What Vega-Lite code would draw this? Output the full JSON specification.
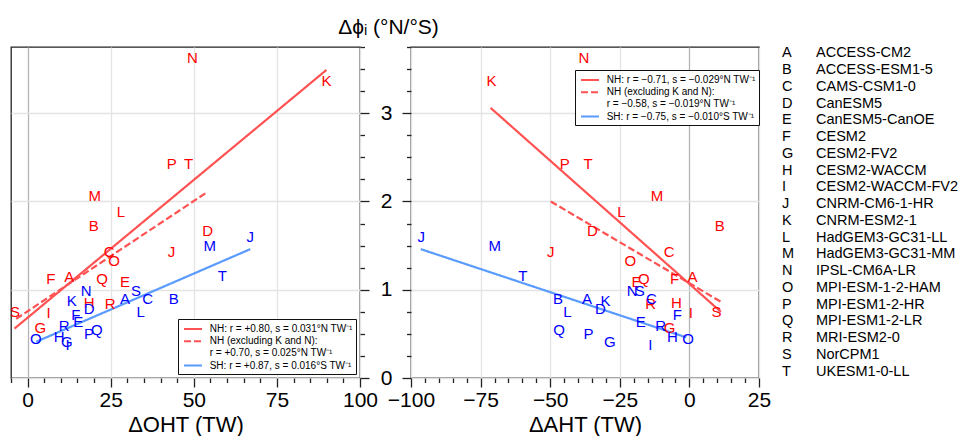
{
  "$schema": "https://vega.github.io/schema/vega-lite/v6.json",
  "background": "white",
  "padding": {"left": 9, "top": 15, "right": 5, "bottom": 5},
  "bounds": "flush",
  "spacing": 51,
  "config": {
    "font": "Liberation Sans",
    "view": {"stroke": "#222222", "strokeWidth": 1.3},
    "axis": {
      "labelFont": "Liberation Sans", "titleFont": "Liberation Sans",
      "labelColor": "black", "titleColor": "black",
      "labelFontSize": 21, "titleFontSize": 22, "titleFontWeight": "normal",
      "domain": false,
      "tickColor": "#222222", "tickWidth": 1.3, "gridWidth": 1.3, "gridColor": "#e4e4e4",
      "labelOverlap": false, "labelFlush": false
    },
    "legend": {
      "labelFont": "Liberation Sans", "labelFontSize": 10, "labelColor": "black",
      "symbolType": "M-1.5,0H1.5", "symbolSize": 144, "symbolStrokeWidth": 2,
      "symbolOffset": 5, "labelOffset": 9.7, "padding": 3, "rowPadding": 0.2,
      "strokeColor": "#111111", "fillColor": "white", "labelLimit": 400,
      "cornerRadius": 0
    }
  },
  "resolve": {
    "scale": {"x": "independent", "y": "independent", "stroke": "independent", "strokeDash": "independent", "fill": "independent"},
    "axis": {"x": "independent", "y": "independent"},
    "legend": {"stroke": "independent", "strokeDash": "independent", "fill": "independent"}
  },
  "datasets": {
    "points": [
      {"code": "A", "hemi": "NH", "oht": 12.5, "aht": 1.1, "phi": 1.14},
      {"code": "B", "hemi": "NH", "oht": 19.9, "aht": 10.9, "phi": 1.72},
      {"code": "C", "hemi": "NH", "oht": 24.5, "aht": -7.3, "phi": 1.43},
      {"code": "D", "hemi": "NH", "oht": 54.2, "aht": -34.8, "phi": 1.67},
      {"code": "E", "hemi": "NH", "oht": 29.3, "aht": -19.0, "phi": 1.09},
      {"code": "F", "hemi": "NH", "oht": 7.0, "aht": -5.3, "phi": 1.12},
      {"code": "G", "hemi": "NH", "oht": 3.8, "aht": -7.1, "phi": 0.57},
      {"code": "H", "hemi": "NH", "oht": 18.5, "aht": -4.7, "phi": 0.845},
      {"code": "I", "hemi": "NH", "oht": 6.3, "aht": 0.5, "phi": 0.74},
      {"code": "J", "hemi": "NH", "oht": 43.3, "aht": -49.8, "phi": 1.43},
      {"code": "K", "hemi": "NH", "oht": 89.9, "aht": -71.1, "phi": 3.37},
      {"code": "L", "hemi": "NH", "oht": 28.1, "aht": -24.4, "phi": 1.88},
      {"code": "M", "hemi": "NH", "oht": 20.2, "aht": -11.6, "phi": 2.06},
      {"code": "N", "hemi": "NH", "oht": 49.6, "aht": -37.9, "phi": 3.62},
      {"code": "O", "hemi": "NH", "oht": 26.0, "aht": -21.2, "phi": 1.32},
      {"code": "P", "hemi": "NH", "oht": 43.4, "aht": -44.8, "phi": 2.43},
      {"code": "Q", "hemi": "NH", "oht": 22.4, "aht": -16.4, "phi": 1.12},
      {"code": "R", "hemi": "NH", "oht": 24.8, "aht": -13.9, "phi": 0.835},
      {"code": "S", "hemi": "NH", "oht": -3.8, "aht": 9.7, "phi": 0.75},
      {"code": "T", "hemi": "NH", "oht": 48.4, "aht": -36.4, "phi": 2.43},
      {"code": "A", "hemi": "SH", "oht": 29.3, "aht": -36.8, "phi": 0.89},
      {"code": "B", "hemi": "SH", "oht": 44.0, "aht": -47.2, "phi": 0.90},
      {"code": "C", "hemi": "SH", "oht": 36.1, "aht": -13.6, "phi": 0.89},
      {"code": "D", "hemi": "SH", "oht": 18.5, "aht": -32.0, "phi": 0.78},
      {"code": "E", "hemi": "SH", "oht": 15.2, "aht": -17.5, "phi": 0.63},
      {"code": "F", "hemi": "SH", "oht": 14.5, "aht": -4.3, "phi": 0.71},
      {"code": "G", "hemi": "SH", "oht": 11.8, "aht": -28.6, "phi": 0.405},
      {"code": "H", "hemi": "SH", "oht": 9.5, "aht": -6.1, "phi": 0.46},
      {"code": "I", "hemi": "SH", "oht": 12.0, "aht": -14.0, "phi": 0.375},
      {"code": "J", "hemi": "SH", "oht": 67.0, "aht": -96.3, "phi": 1.60},
      {"code": "K", "hemi": "SH", "oht": 13.3, "aht": -30.1, "phi": 0.87},
      {"code": "L", "hemi": "SH", "oht": 34.0, "aht": -43.8, "phi": 0.75},
      {"code": "M", "hemi": "SH", "oht": 54.8, "aht": -69.9, "phi": 1.49},
      {"code": "N", "hemi": "SH", "oht": 17.6, "aht": -20.6, "phi": 0.98},
      {"code": "O", "hemi": "SH", "oht": 2.5, "aht": -0.5, "phi": 0.445},
      {"code": "P", "hemi": "SH", "oht": 18.5, "aht": -36.2, "phi": 0.495},
      {"code": "Q", "hemi": "SH", "oht": 20.8, "aht": -46.8, "phi": 0.54},
      {"code": "R", "hemi": "SH", "oht": 11.0, "aht": -10.3, "phi": 0.585},
      {"code": "S", "hemi": "SH", "oht": 32.6, "aht": -17.8, "phi": 0.98},
      {"code": "T", "hemi": "SH", "oht": 58.6, "aht": -59.8, "phi": 1.16}
    ],
    "fits": [
      {"panel": "OHT", "fit": "NH", "x": -3.95, "y": 0.56},
      {"panel": "OHT", "fit": "NH", "x": 89.9, "y": 3.49},
      {"panel": "OHT", "fit": "NHx", "x": -3.45, "y": 0.67},
      {"panel": "OHT", "fit": "NHx", "x": 54.2, "y": 2.11},
      {"panel": "OHT", "fit": "SH", "x": 2.55, "y": 0.41},
      {"panel": "OHT", "fit": "SH", "x": 67.0, "y": 1.46},
      {"panel": "AHT", "fit": "NH", "x": -71.4, "y": 3.06},
      {"panel": "AHT", "fit": "NH", "x": 11.3, "y": 0.75},
      {"panel": "AHT", "fit": "NHx", "x": -49.8, "y": 2.0},
      {"panel": "AHT", "fit": "NHx", "x": 11.5, "y": 0.86},
      {"panel": "AHT", "fit": "SH", "x": -96.5, "y": 1.46},
      {"panel": "AHT", "fit": "SH", "x": -1.1, "y": 0.46}
    ],
    "models": [
      {"code": "A", "name": "ACCESS-CM2"},
      {"code": "B", "name": "ACCESS-ESM1-5"},
      {"code": "C", "name": "CAMS-CSM1-0"},
      {"code": "D", "name": "CanESM5"},
      {"code": "E", "name": "CanESM5-CanOE"},
      {"code": "F", "name": "CESM2"},
      {"code": "G", "name": "CESM2-FV2"},
      {"code": "H", "name": "CESM2-WACCM"},
      {"code": "I", "name": "CESM2-WACCM-FV2"},
      {"code": "J", "name": "CNRM-CM6-1-HR"},
      {"code": "K", "name": "CNRM-ESM2-1"},
      {"code": "L", "name": "HadGEM3-GC31-LL"},
      {"code": "M", "name": "HadGEM3-GC31-MM"},
      {"code": "N", "name": "IPSL-CM6A-LR"},
      {"code": "O", "name": "MPI-ESM-1-2-HAM"},
      {"code": "P", "name": "MPI-ESM1-2-HR"},
      {"code": "Q", "name": "MPI-ESM1-2-LR"},
      {"code": "R", "name": "MRI-ESM2-0"},
      {"code": "S", "name": "NorCPM1"},
      {"code": "T", "name": "UKESM1-0-LL"}
    ]
  },
  "hconcat": [
    {
      "width": 349, "height": 331,
      "resolve": {"scale": {"x": "independent", "y": "independent"}, "axis": {"x": "independent", "y": "independent"}},
      "layer": [
        {
          "data": {"name": "fits"},
          "transform": [{"filter": "datum.panel === 'OHT'"}],
          "mark": {"type": "line", "strokeWidth": 2.2, "clip": true},
          "encoding": {
            "x": {"field": "x", "type": "quantitative",
              "scale": {"domain": [-5, 100], "nice": false, "zero": false},
              "axis": {
                "orient": "bottom", "title": "ΔOHT (TW)",
                "values": [0, 25, 50, 75, 100], "format": "d",
                "tickSize": 9, "grid": true,
                "gridColor": {"condition": {"test": "datum.value === 0", "value": "#b4b4b4"}, "value": "#e4e4e4"},
                "labelPadding": 2, "titlePadding": 4
              }},
            "y": {"field": "y", "type": "quantitative",
              "scale": {"domain": [0, 3.75], "nice": false, "zero": false},
              "axis": {
                "orient": "right", "title": null, "labels": false,
                "values": [0, 1, 2, 3], "tickSize": 9, "grid": true
              }},
            "stroke": {"field": "fit", "type": "nominal",
              "scale": {"domain": ["NH", "NHx", "NHx2", "SH"], "range": ["#ff5252", "#ff5252", "rgba(0,0,0,0)", "#5b9bff"]},
              "legend": {"title": null, "orient": "bottom-right", "offset": 4,
                "labelExpr": "datum.value === 'NH' ? 'NH: r = +0.80, s = 0.031°N TW⁻¹' : datum.value === 'NHx' ? 'NH (excluding K and N):' : datum.value === 'NHx2' ? 'r = +0.70, s = 0.025°N TW⁻¹' : 'SH: r = +0.87, s = 0.016°S TW⁻¹'"}},
            "strokeDash": {"field": "fit", "type": "nominal",
              "scale": {"domain": ["NH", "NHx", "NHx2", "SH"], "range": [[1, 0], [7, 3], [1, 0], [1, 0]]},
              "legend": {"title": null, "orient": "bottom-right", "offset": 4,
                "labelExpr": "datum.value === 'NH' ? 'NH: r = +0.80, s = 0.031°N TW⁻¹' : datum.value === 'NHx' ? 'NH (excluding K and N):' : datum.value === 'NHx2' ? 'r = +0.70, s = 0.025°N TW⁻¹' : 'SH: r = +0.87, s = 0.016°S TW⁻¹'"}}
          }
        },
        {
          "data": {"name": "points"},
          "mark": {"type": "text", "fontSize": 15, "baseline": "middle", "align": "center", "font": "Liberation Sans"},
          "encoding": {
            "x": {"field": "oht", "type": "quantitative",
              "scale": {"domain": [-5, 100], "nice": false, "zero": false},
              "axis": {"orient": "bottom", "title": null, "labels": false, "grid": false, "tickSize": 4.5,
                "values": [-5,5,10,15,20,30,35,40,45,55,60,65,70,80,85,90,95]}},
            "y": {"field": "phi", "type": "quantitative",
              "scale": {"domain": [0, 3.75], "nice": false, "zero": false},
              "axis": {"orient": "right", "title": null, "labels": false, "grid": false, "tickSize": 4.5,
                "values": [0.25,0.5,0.75,1.25,1.5,1.75,2.25,2.5,2.75,3.25,3.5,3.75]}},
            "text": {"field": "code"},
            "fill": {"field": "hemi", "type": "nominal", "scale": {"domain": ["NH", "SH"], "range": ["#ff0000", "#0000ff"]}, "legend": null}
          }
        }
      ]
    },
    {
      "width": 348, "height": 331,
      "resolve": {"scale": {"x": "independent", "y": "independent"}, "axis": {"x": "independent", "y": "independent"}},
      "layer": [
        {
          "data": {"name": "fits"},
          "transform": [{"filter": "datum.panel === 'AHT'"}],
          "mark": {"type": "line", "strokeWidth": 2.2, "clip": true},
          "encoding": {
            "x": {"field": "x", "type": "quantitative",
              "scale": {"domain": [-100, 25], "nice": false, "zero": false},
              "axis": {
                "orient": "bottom", "title": "ΔAHT (TW)",
                "values": [-100, -75, -50, -25, 0, 25], "format": "d",
                "tickSize": 9, "grid": true,
                "gridColor": {"condition": {"test": "datum.value === 0", "value": "#b4b4b4"}, "value": "#e4e4e4"},
                "labelPadding": 2, "titlePadding": 4
              }},
            "y": {"field": "y", "type": "quantitative",
              "scale": {"domain": [0, 3.75], "nice": false, "zero": false},
              "axis": {
                "orient": "left",
                "title": "Δϕᵢ (°N/°S)", "titleAngle": 0, "titleX": -23, "titleY": -14,
                "titleAlign": "center", "titleBaseline": "alphabetic", "titleFontSize": 21,
                "values": [0, 1, 2, 3], "format": "d",
                "tickSize": 9, "labelPadding": 10, "grid": true
              }},
            "stroke": {"field": "fit", "type": "nominal",
              "scale": {"domain": ["NH", "NHx", "NHx2", "SH"], "range": ["#ff5252", "#ff5252", "rgba(0,0,0,0)", "#5b9bff"]},
              "legend": {"title": null, "orient": "none", "legendX": 164, "legendY": 23,
                "labelExpr": "datum.value === 'NH' ? 'NH: r = −0.71, s = −0.029°N TW⁻¹' : datum.value === 'NHx' ? 'NH (excluding K and N):' : datum.value === 'NHx2' ? 'r = −0.58, s = −0.019°N TW⁻¹' : 'SH: r = −0.75, s = −0.010°S TW⁻¹'"}},
            "strokeDash": {"field": "fit", "type": "nominal",
              "scale": {"domain": ["NH", "NHx", "NHx2", "SH"], "range": [[1, 0], [7, 3], [1, 0], [1, 0]]},
              "legend": {"title": null, "orient": "none", "legendX": 164, "legendY": 23,
                "labelExpr": "datum.value === 'NH' ? 'NH: r = −0.71, s = −0.029°N TW⁻¹' : datum.value === 'NHx' ? 'NH (excluding K and N):' : datum.value === 'NHx2' ? 'r = −0.58, s = −0.019°N TW⁻¹' : 'SH: r = −0.75, s = −0.010°S TW⁻¹'"}}
          }
        },
        {
          "data": {"name": "points"},
          "mark": {"type": "text", "fontSize": 15, "baseline": "middle", "align": "center", "font": "Liberation Sans"},
          "encoding": {
            "x": {"field": "aht", "type": "quantitative",
              "scale": {"domain": [-100, 25], "nice": false, "zero": false},
              "axis": {"orient": "bottom", "title": null, "labels": false, "grid": false, "tickSize": 4.5,
                "values": [-95,-90,-85,-80,-70,-65,-60,-55,-45,-40,-35,-30,-20,-15,-10,-5,5,10,15,20]}},
            "y": {"field": "phi", "type": "quantitative",
              "scale": {"domain": [0, 3.75], "nice": false, "zero": false},
              "axis": {"orient": "left", "title": null, "labels": false, "grid": false, "tickSize": 4.5,
                "values": [0.25,0.5,0.75,1.25,1.5,1.75,2.25,2.5,2.75,3.25,3.5,3.75]}},
            "text": {"field": "code"},
            "fill": {"field": "hemi", "type": "nominal", "scale": {"domain": ["NH", "SH"], "range": ["#ff0000", "#0000ff"]}, "legend": null}
          }
        }
      ]
    },
    {
      "width": 12, "height": 331,
      "data": {"name": "models"},
      "view": {"stroke": null},
      "layer": [
        {
          "mark": {"type": "text", "align": "left", "baseline": "middle", "dx": -34, "fontSize": 14.5, "font": "Liberation Sans", "color": "black"},
          "encoding": {
            "y": {"field": "code", "type": "ordinal", "axis": null, "scale": {"padding": 0.37}},
            "text": {"field": "code"}
          }
        },
        {
          "mark": {"type": "text", "align": "left", "baseline": "middle", "dx": 0, "fontSize": 14.5, "font": "Liberation Sans", "color": "black"},
          "encoding": {
            "y": {"field": "code", "type": "ordinal", "axis": null, "scale": {"padding": 0.37}},
            "text": {"field": "name"}
          }
        }
      ]
    }
  ]
}
